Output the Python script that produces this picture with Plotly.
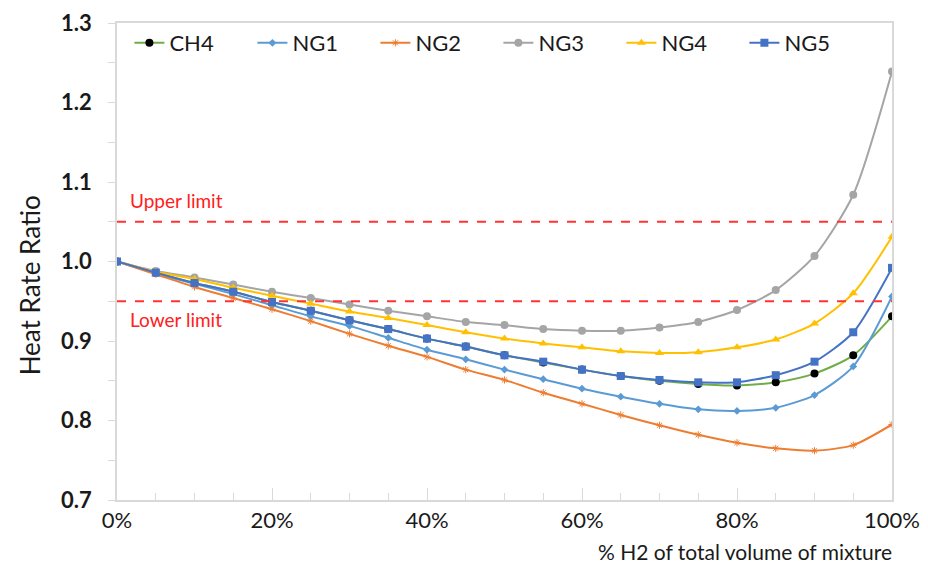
import plotly.graph_objects as go

h2_pct = [0, 5, 10, 15, 20, 25, 30, 35, 40, 45, 50, 55, 60, 65, 70, 75, 80, 85, 90, 95, 100]

ch4 = [1.000, 0.986, 0.973, 0.962, 0.949, 0.938, 0.926, 0.915, 0.903, 0.893, 0.882, 0.873, 0.864, 0.856, 0.850, 0.846, 0.844, 0.848, 0.859, 0.882, 0.931]
ng1 = [1.000, 0.985, 0.972, 0.959, 0.945, 0.931, 0.919, 0.904, 0.889, 0.877, 0.864, 0.852, 0.840, 0.830, 0.821, 0.814, 0.812, 0.816, 0.832, 0.868, 0.956]
ng2 = [1.000, 0.984, 0.968, 0.954, 0.940, 0.925, 0.909, 0.894, 0.880, 0.864, 0.851, 0.835, 0.821, 0.807, 0.794, 0.782, 0.772, 0.765, 0.762, 0.769, 0.795]
ng3 = [1.000, 0.988, 0.980, 0.971, 0.962, 0.954, 0.946, 0.938, 0.931, 0.924, 0.920, 0.915, 0.913, 0.913, 0.917, 0.924, 0.939, 0.964, 1.007, 1.084, 1.239]
ng4 = [1.000, 0.987, 0.978, 0.967, 0.957, 0.947, 0.937, 0.929, 0.920, 0.911, 0.903, 0.897, 0.892, 0.887, 0.885, 0.886, 0.892, 0.902, 0.922, 0.960, 1.031]
ng5 = [1.000, 0.986, 0.973, 0.962, 0.949, 0.938, 0.926, 0.915, 0.903, 0.893, 0.882, 0.874, 0.864, 0.856, 0.851, 0.848, 0.848, 0.857, 0.874, 0.911, 0.992]

upper_limit = 1.05
lower_limit = 0.95

FONT = "Lato"

series = [
    ("CH4", ch4, "#70AD47", dict(symbol="circle", size=8, color="black")),
    ("NG1", ng1, "#5B9BD5", dict(symbol="diamond", size=6, color="#5B9BD5")),
    ("NG2", ng2, "#ED7D31", dict(symbol="asterisk", size=6, color="#ED7D31", line=dict(width=1, color="#ED7D31"))),
    ("NG3", ng3, "#A5A5A5", dict(symbol="circle", size=8, color="#A5A5A5")),
    ("NG4", ng4, "#FFC000", dict(symbol="triangle-up", size=8, color="#FFC000")),
    ("NG5", ng5, "#4472C4", dict(symbol="square", size=8, color="#4472C4")),
]

fig = go.Figure()
for name, vals, col, mk in series:
    fig.add_trace(go.Scatter(
        x=h2_pct, y=vals, name=name, mode="lines+markers",
        line=dict(color=col, width=2, shape="spline", smoothing=0.7),
        marker=mk,
    ))

for val in (upper_limit, lower_limit):
    fig.add_shape(type="line", xref="x", yref="y", x0=0, x1=100, y0=val, y1=val,
                  line=dict(color="#FF3333", width=2, dash="dash"), layer="above")

fig.add_annotation(x=0, y=upper_limit, xref="x", yref="y", text="Upper limit",
                   showarrow=False, xanchor="left", yanchor="bottom", xshift=11, yshift=8,
                   font=dict(family=FONT, size=19, color="#FF2020"))
fig.add_annotation(x=0, y=lower_limit, xref="x", yref="y", text="Lower limit",
                   showarrow=False, xanchor="left", yanchor="top", xshift=11, yshift=-5,
                   font=dict(family=FONT, size=19, color="#FF2020"))

fig.add_annotation(x=1, y=0, xref="paper", yref="paper", text="% H2 of total volume of mixture",
                   showarrow=False, xanchor="right", yanchor="top", yshift=-37, xshift=2,
                   font=dict(family=FONT, size=21, color="#1a1a1a"))
fig.add_annotation(x=0, y=0.45, xref="paper", yref="paper", text="Heat Rate Ratio",
                   showarrow=False, xanchor="center", yanchor="middle", xshift=-87, textangle=-90,
                   font=dict(family=FONT, size=26, color="#1a1a1a"))

fig.update_layout(
    width=928, height=581,
    margin=dict(l=117, r=36, t=23, b=81, autoexpand=False),
    paper_bgcolor="white", plot_bgcolor="white",
    font=dict(family=FONT, color="#1a1a1a"),
    showlegend=True,
    legend=dict(orientation="h", x=0.016, y=0.958, xanchor="left", yanchor="middle",
                font=dict(family=FONT, size=22, color="#1a1a1a"),
                entrywidth=78, entrywidthmode="pixels", bgcolor="rgba(0,0,0,0)"),
)
fig.update_xaxes(range=[0, 100], dtick=20, ticksuffix="%", showgrid=False, zeroline=False,
                 showline=True, linecolor="#D9D9D9", linewidth=1.5, mirror=True, automargin=False,
                 ticks="inside", ticklen=12, tickcolor="#D9D9D9",
                 minor=dict(dtick=5, ticks="inside", ticklen=7, tickcolor="#D9D9D9"),
                 tickfont=dict(family=FONT, size=22, color="#1a1a1a"))
fig.update_yaxes(range=[0.7, 1.3], dtick=0.1, tickformat=".1f", showgrid=False, zeroline=False,
                 showline=True, linecolor="#D9D9D9", linewidth=1.5, mirror=True, automargin=False,
                 ticks="outside", ticklen=7, tickcolor="#D9D9D9", ticklabelstandoff=12,
                 minor=dict(dtick=0.05, ticks="outside", ticklen=7, tickcolor="#D9D9D9"),
                 tickfont=dict(family=FONT, size=22, color="#1a1a1a", weight="bold"))

fig.write_html("out.html")
